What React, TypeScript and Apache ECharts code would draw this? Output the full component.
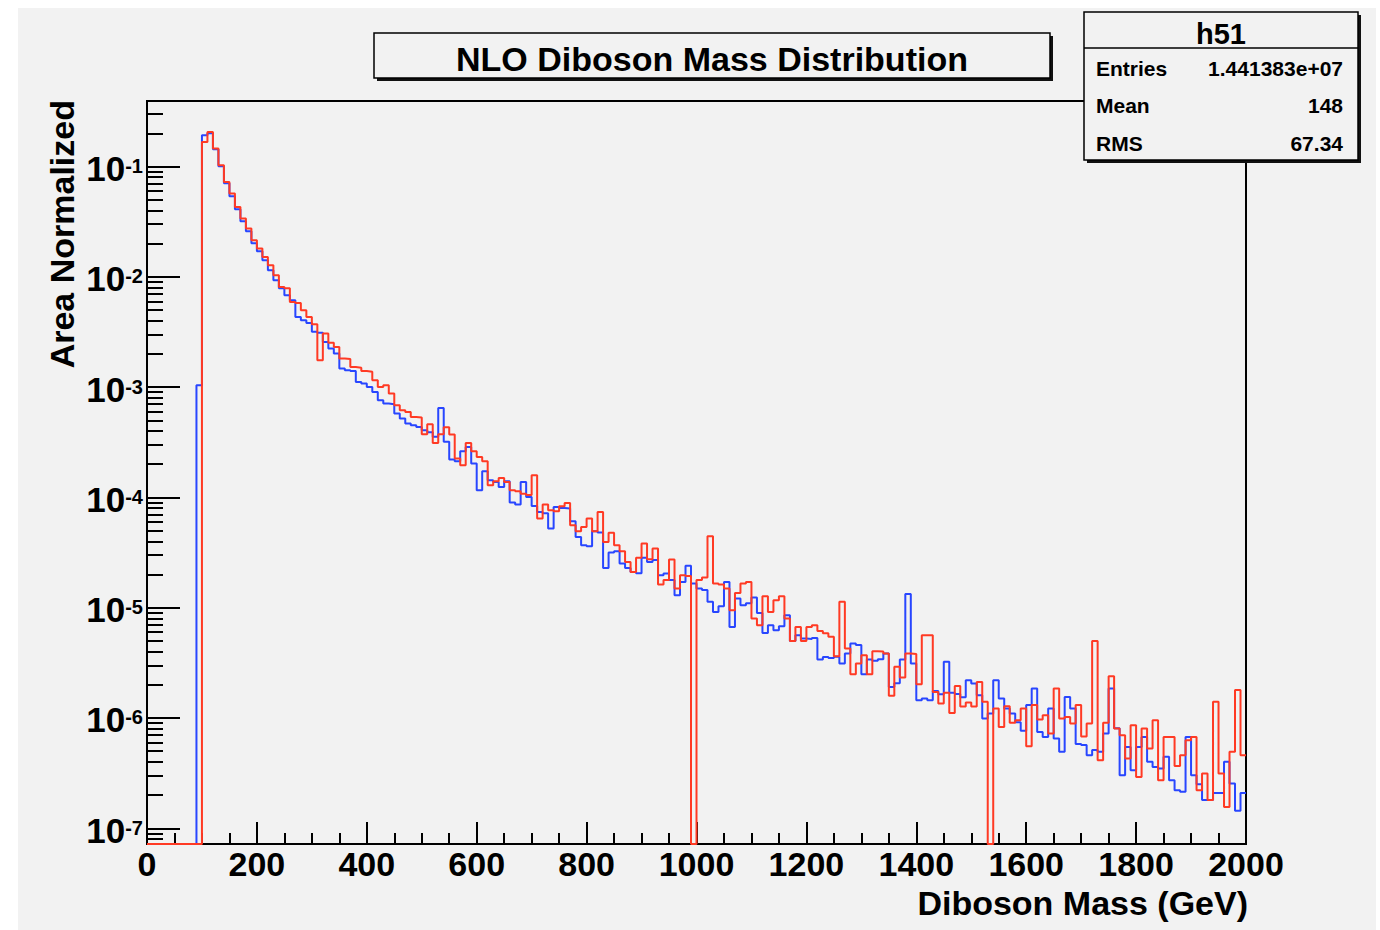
import { useEffect, useRef } from 'react';
import * as echarts from 'echarts';

const FONT = '"Liberation Sans", Arial, Helvetica, sans-serif';
const TITLE = 'NLO Diboson Mass Distribution';
const X_TITLE = 'Diboson Mass (GeV)';
const Y_TITLE = 'Area Normalized';
const STATS_NAME = 'h51';
const STATS_LABELS = ['Entries', 'Mean', 'RMS'];
const STATS_VALUES = ['1.441383e+07', '148', '67.34'];

const X_MIN = 0;
const X_MAX = 2000;
const X_MAJOR = 200;
const BIN_WIDTH = 10;
const Y_MIN = 7.2e-8;
const Y_MAX = 0.393;
const Y_DECADES = [1e-7, 1e-6, 1e-5, 1e-4, 1e-3, 1e-2, 1e-1];
const Y_MINOR_FACTORS = [2, 3, 4, 5, 6, 7, 8, 9];
const Y_MINOR_DECADES = [1e-8, 1e-7, 1e-6, 1e-5, 1e-4, 1e-3, 1e-2, 1e-1];

const BLUE = '#2846ff';
const RED = '#ff3a24';
const BG = '#f2f2f2';

// Blue histogram, bins of 10 GeV (lower edges 0 ... 490)
const BLUE_0_500 = [
  0, 0, 0, 0, 0, 0, 0, 0, 0, 1.04e-3,
  0.192, 0.2, 0.1435, 0.1006, 0.0706, 0.0538, 0.041, 0.0319, 0.0259, 0.0202,
  0.01707, 0.01414, 0.01148, 0.00932, 0.00788, 0.00681, 0.00614, 0.00433, 0.00404, 0.00382,
  0.00317, 0.00312, 0.00257, 0.00224, 0.00202, 0.001475, 0.001423, 0.0014, 0.001114, 0.001078,
  0.001004, 0.000905, 0.000761, 0.00071, 0.0007, 0.000576, 0.000519, 0.000468, 0.000451, 0.000436,
];
// Blue, lower edges 500 ... 990
const BLUE_500_1000 = [
  0.000407, 0.00039, 0.000354, 0.000648, 0.000319, 0.000221, 0.000213, 0.000262, 0.000287, 0.000203,
  0.000116, 0.000173, 0.000143, 0.000138, 0.000124, 0.00014, 8.99e-5, 8.62e-5, 0.000138, 0.000101,
  8.37e-5, 7.39e-5, 7.2e-5, 5.22e-5, 8.2e-5, 8.0e-5, 7.93e-5, 6.09e-5, 4.38e-5, 3.69e-5,
  3.6e-5, 4.94e-5, 4.8e-5, 2.29e-5, 3.17e-5, 3.25e-5, 2.52e-5, 2.29e-5, 2.11e-5, 2.05e-5,
  2.83e-5, 2.6e-5, 2.7e-5, 1.97e-5, 2.04e-5, 1.78e-5, 1.3e-5, 1.71e-5, 2.4e-5, 1.66e-5,
];
// Blue, lower edges 1000 ... 1490
const BLUE_1000_1500 = [
  1.49e-5, 1.45e-5, 1.13e-5, 9.16e-6, 1.03e-5, 1.71e-5, 6.7e-6, 1.21e-5, 1.05e-5, 1.1e-5,
  1.24e-5, 8.97e-6, 5.91e-6, 6.94e-6, 6.25e-6, 6.8e-6, 8.55e-6, 5.0e-6, 5.63e-6, 5.26e-6,
  5.2e-6, 5.3e-6, 3.39e-6, 3.58e-6, 3.5e-6, 3.6e-6, 3.12e-6, 3.84e-6, 4.74e-6, 4.6e-6,
  2.49e-6, 3.39e-6, 3.3e-6, 3.41e-6, 3.84e-6, 1.91e-6, 2.06e-6, 3.39e-6, 1.33e-5, 3.12e-6,
  1.45e-6, 1.5e-6, 1.45e-6, 1.76e-6, 1.64e-6, 3.23e-6, 1.69e-6, 1.65e-6, 1.54e-6, 2.2e-6,
];
// Blue, lower edges 1500 ... 1990
const BLUE_1500_2000 = [
  2.05e-6, 1.61e-6, 9.9e-7, 1.1e-6, 2.2e-6, 1.5e-6, 1.22e-6, 1.1e-6, 9.16e-7, 7.64e-7,
  1.31e-6, 1.85e-6, 7.48e-7, 6.74e-7, 1.22e-6, 6.52e-7, 4.93e-7, 1.55e-6, 1.22e-6, 5.81e-7,
  5.7e-7, 4.6e-7, 5.13e-7, 4.93e-7, 7.24e-7, 1.85e-6, 8.08e-7, 3.03e-7, 5.47e-7, 3.36e-7,
  5.47e-7, 6.74e-7, 4.0e-7, 3.6e-7, 3.48e-7, 4.44e-7, 2.73e-7, 2.21e-7, 2.14e-7, 6.74e-7,
  3.03e-7, 2.51e-7, 1.8e-7, 1.8e-7, 2.09e-7, 2.09e-7, 4.0e-7, 2.55e-7, 1.44e-7, 2.09e-7,
];

// Red histogram, lower edges 0 ... 490
const RED_0_500 = [
  0, 0, 0, 0, 0, 0, 0, 0, 0, 0,
  0.167, 0.206, 0.1456, 0.1028, 0.0725, 0.0569, 0.043, 0.0338, 0.0274, 0.0215,
  0.01806, 0.01515, 0.01274, 0.01034, 0.0081, 0.0079, 0.00592, 0.0058, 0.00498, 0.00433,
  0.00372, 0.00175, 0.00306, 0.00252, 0.00231, 0.00182, 0.0018, 0.00152, 0.0015, 0.0014,
  0.00138, 0.001155, 0.001004, 0.00104, 0.000875, 0.000685, 0.000617, 0.000596, 0.000537, 0.00053,
];
// Red, lower edges 500 ... 990
const RED_500_1000 = [
  0.000374, 0.000461, 0.000312, 0.000374, 0.000433, 0.000372, 0.000225, 0.000196, 0.000312, 0.000262,
  0.000233, 0.000213, 0.000129, 0.00014, 0.00015, 0.000138, 0.000116, 0.000114, 0.000108, 0.000105,
  0.000159, 6.44e-5, 8.62e-5, 7.66e-5, 7.5e-5, 8.32e-5, 8.91e-5, 5.6e-5, 4.94e-5, 5.4e-5,
  6.44e-5, 4.94e-5, 7.39e-5, 3.95e-5, 4.77e-5, 3.69e-5, 3.25e-5, 2.6e-5, 2.11e-5, 2.83e-5,
  3.82e-5, 2.75e-5, 3.44e-5, 1.62e-5, 1.78e-5, 2.74e-5, 1.49e-5, 1.97e-5, 1.94e-5, 0,
];
// Red, lower edges 1000 ... 1490
const RED_1000_1500 = [
  1.78e-5, 1.88e-5, 4.45e-5, 1.66e-5, 1.62e-5, 1.49e-5, 9.49e-6, 1.36e-5, 1.66e-5, 1.71e-5,
  7.98e-6, 6.94e-6, 1.27e-5, 9.16e-6, 1.17e-5, 1.27e-5, 7.98e-6, 5.0e-6, 6.7e-6, 5.0e-6,
  6.7e-6, 6.94e-6, 6.16e-6, 5.87e-6, 5.44e-6, 3.63e-6, 1.13e-5, 4.27e-6, 2.49e-6, 3.12e-6,
  3.71e-6, 2.49e-6, 4.03e-6, 4.0e-6, 3.84e-6, 1.59e-6, 2.91e-6, 2.33e-6, 3.84e-6, 3.8e-6,
  2.02e-6, 5.63e-6, 5.63e-6, 1.72e-6, 1.35e-6, 1.69e-6, 1.11e-6, 1.95e-6, 1.27e-6, 1.38e-6,
];
// Red, lower edges 1500 ... 1990
const RED_1500_2000 = [
  1.27e-6, 2.12e-6, 1.4e-6, 0, 1.22e-6, 8.3e-7, 1.28e-6, 9.03e-7, 9.55e-7, 1.22e-6,
  5.55e-7, 1.31e-6, 9.69e-7, 1.06e-6, 7.24e-7, 1.85e-6, 9.9e-7, 1.02e-6, 8.92e-7, 1.31e-6,
  6.8e-7, 8.92e-7, 5.0e-6, 4.14e-7, 9.03e-7, 2.39e-6, 8.03e-7, 6.98e-7, 4.29e-7, 8.6e-7,
  2.92e-7, 8.03e-7, 5.29e-7, 9.55e-7, 2.73e-7, 6.74e-7, 6.74e-7, 3.66e-7, 4.6e-7, 6.29e-7,
  6.74e-7, 2.21e-7, 3.14e-7, 1.8e-7, 1.4e-6, 3.14e-7, 1.56e-7, 4.93e-7, 1.79e-6, 4.6e-7,
];

const BLUE_BINS = [...BLUE_0_500, ...BLUE_500_1000, ...BLUE_1000_1500, ...BLUE_1500_2000];
const RED_BINS = [...RED_0_500, ...RED_500_1000, ...RED_1000_1500, ...RED_1500_2000];

// Histogram outline: one point per bin lower edge, empty bins drawn on the frame floor
function toSteps(values: number[]): [number, number][] {
  const pts: [number, number][] = values.map((v, i) => [X_MIN + i * BIN_WIDTH, v > 0 ? v : Y_MIN]);
  pts.push([X_MAX, pts[pts.length - 1][1]]);
  return pts;
}

const Y_MINOR: number[] = [];
Y_MINOR_DECADES.forEach((d) => Y_MINOR_FACTORS.forEach((k) => Y_MINOR.push(k * d)));

const W = 1358;
const H = 922;

export default function App() {
  const ref = useRef<HTMLDivElement>(null);

  useEffect(() => {
    if (!ref.current) return;
    const chart = echarts.init(ref.current, undefined, { renderer: 'svg' });

    const textStyle = (size: number, align: string, vAlign = 'middle') => ({
      fontSize: size,
      fontWeight: 'bold',
      fontFamily: FONT,
      fill: '#000',
      align,
      verticalAlign: vAlign,
      textAlign: align,
      textVerticalAlign: vAlign,
    });

    const statsRowsY = [60, 97, 135];

    const graphic: any[] = [
      // title pave
      { type: 'rect', z: 100, shape: { x: 359, y: 28, width: 676, height: 45 }, style: { fill: '#111' } },
      { type: 'rect', z: 101, shape: { x: 356, y: 25, width: 676, height: 45 }, style: { fill: BG, stroke: '#000', lineWidth: 1.5 } },
      { type: 'text', z: 102, x: 694, y: 51, style: { text: TITLE, ...textStyle(34, 'center') } },
      // stats pave
      { type: 'rect', z: 100, shape: { x: 1069, y: 7, width: 274, height: 148 }, style: { fill: '#111' } },
      { type: 'rect', z: 101, shape: { x: 1066, y: 4, width: 274, height: 148 }, style: { fill: BG, stroke: '#000', lineWidth: 1.5 } },
      { type: 'line', z: 102, shape: { x1: 1066, y1: 40, x2: 1340, y2: 40 }, style: { stroke: '#000', lineWidth: 1.5 } },
      { type: 'text', z: 102, x: 1203, y: 26, style: { text: STATS_NAME, ...textStyle(29, 'center') } },
      ...STATS_LABELS.map((t, i) => ({ type: 'text', z: 102, x: 1078, y: statsRowsY[i], style: { text: t, ...textStyle(21, 'left') } })),
      ...STATS_VALUES.map((t, i) => ({ type: 'text', z: 102, x: 1325, y: statsRowsY[i], style: { text: t, ...textStyle(21, 'right') } })),
      // axis titles
      { type: 'text', z: 102, x: 1230, y: 895, style: { text: X_TITLE, ...textStyle(34, 'right') } },
      { type: 'text', z: 102, x: 44, y: 92, rotation: Math.PI / 2, style: { text: Y_TITLE, ...textStyle(34, 'right') } },
    ];

    const option: any = {
      animation: false,
      backgroundColor: BG,
      grid: {
        left: 129,
        top: 93,
        width: 1099,
        height: 743,
        show: true,
        borderColor: '#000',
        borderWidth: 2,
        backgroundColor: 'transparent',
      },
      xAxis: {
        type: 'value',
        min: X_MIN,
        max: X_MAX,
        interval: X_MAJOR,
        axisLine: { show: true, onZero: false, lineStyle: { color: '#000', width: 2 } },
        axisTick: { show: true, inside: true, length: 22, lineStyle: { color: '#000', width: 2 } },
        minorTick: { show: true, splitNumber: 4, length: 11, lineStyle: { color: '#000', width: 2 } },
        axisLabel: {
          show: true,
          color: '#000',
          fontSize: 34,
          fontWeight: 'bold',
          fontFamily: FONT,
          margin: 3,
          formatter: (v: number) => String(v),
        },
        splitLine: { show: false },
        minorSplitLine: { show: false },
      },
      yAxis: [
        {
          type: 'log',
          logBase: 10,
          min: Y_MIN,
          max: Y_MAX,
          position: 'left',
          axisLine: { show: true, lineStyle: { color: '#000', width: 2 } },
          axisTick: { show: true, inside: true, length: 33, customValues: Y_DECADES, lineStyle: { color: '#000', width: 2 } },
          axisLabel: {
            show: true,
            customValues: Y_DECADES,
            margin: 4,
            padding: [9, 0, 0, 0],
            formatter: (v: number) => `{b|10}{s|${Math.round(Math.log10(v))}}`,
            rich: {
              b: { fontSize: 35, fontWeight: 'bold', fontFamily: FONT, color: '#000', lineHeight: 30, verticalAlign: 'bottom' },
              s: { fontSize: 20, fontWeight: 'bold', fontFamily: FONT, color: '#000', lineHeight: 13, verticalAlign: 'top' },
            },
          },
          splitLine: { show: false },
          minorTick: { show: false },
        },
        {
          type: 'log',
          logBase: 10,
          min: Y_MIN,
          max: Y_MAX,
          position: 'left',
          axisLine: { show: false },
          axisTick: { show: true, inside: true, length: 16, customValues: Y_MINOR, lineStyle: { color: '#000', width: 2 } },
          axisLabel: { show: false },
          splitLine: { show: false },
          minorTick: { show: false },
        },
      ],
      series: [
        {
          type: 'line',
          name: 'blue',
          xAxisIndex: 0,
          yAxisIndex: 0,
          data: toSteps(BLUE_BINS),
          step: 'end',
          symbol: 'none',
          showSymbol: false,
          clip: true,
          lineStyle: { color: BLUE, width: 2 },
          z: 3,
        },
        {
          type: 'line',
          name: 'red',
          xAxisIndex: 0,
          yAxisIndex: 0,
          data: toSteps(RED_BINS),
          step: 'end',
          symbol: 'none',
          showSymbol: false,
          clip: true,
          lineStyle: { color: RED, width: 2 },
          z: 4,
        },
      ],
      graphic,
    };

    chart.setOption(option);
    return () => chart.dispose();
  }, []);

  return (
    <div style={{ position: 'absolute', left: 0, top: 0, width: 1380, height: 930, background: '#ffffff' }}>
      <div ref={ref} style={{ position: 'absolute', left: 18, top: 8, width: W, height: H }} />
    </div>
  );
}
